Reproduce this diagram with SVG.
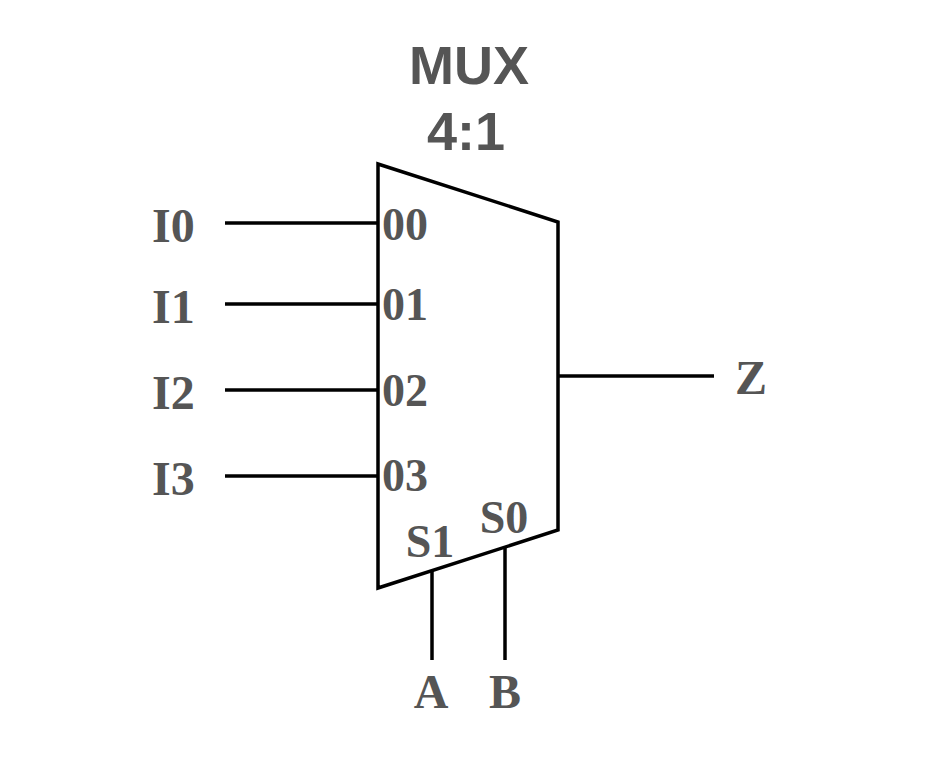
<svg xmlns="http://www.w3.org/2000/svg" width="927" height="762" viewBox="0 0 927 762">
<style>
.w{stroke:#000;stroke-width:3.5;fill:none}
.s{font-family:"Liberation Serif",serif;font-weight:bold;fill:#555;font-size:48px}
.p{font-family:"Liberation Serif",serif;font-weight:bold;fill:#555;font-size:46px}
.t{font-family:"Liberation Sans",sans-serif;font-weight:bold;fill:#555;font-size:54px}
</style>
<rect width="927" height="762" fill="#fff"/>
<g id="mux">
<polygon class="w" points="378,164 558,222 558,530 378,588" fill="#fff"/>
<text class="t" x="469" y="84" text-anchor="middle">MUX</text>
<text class="t" x="466" y="150" text-anchor="middle">4:1</text>
<text class="p" x="382" y="240">00</text>
<text class="p" x="382" y="320">01</text>
<text class="p" x="382" y="406">02</text>
<text class="p" x="382" y="491">03</text>
<text class="p" x="430" y="557" text-anchor="middle">S1</text>
<text class="p" x="504" y="533" text-anchor="middle">S0</text>
</g>
<g id="connectors">
<line class="w" x1="225" y1="223" x2="378" y2="223"/>
<line class="w" x1="225" y1="304" x2="378" y2="304"/>
<line class="w" x1="225" y1="390" x2="378" y2="390"/>
<line class="w" x1="225" y1="476" x2="378" y2="476"/>
<line class="w" x1="558" y1="376" x2="714" y2="376"/>
<line class="w" x1="432" y1="571" x2="432" y2="660"/>
<line class="w" x1="505" y1="547" x2="505" y2="660"/>
</g>
<g id="labels">
<text class="s" x="152" y="242">I0</text>
<text class="s" x="152" y="323">I1</text>
<text class="s" x="152" y="409">I2</text>
<text class="s" x="152" y="495">I3</text>
<text class="s" x="735" y="394">Z</text>
<text class="s" x="431" y="708" text-anchor="middle">A</text>
<text class="s" x="505" y="708" text-anchor="middle">B</text>
</g>
</svg>
